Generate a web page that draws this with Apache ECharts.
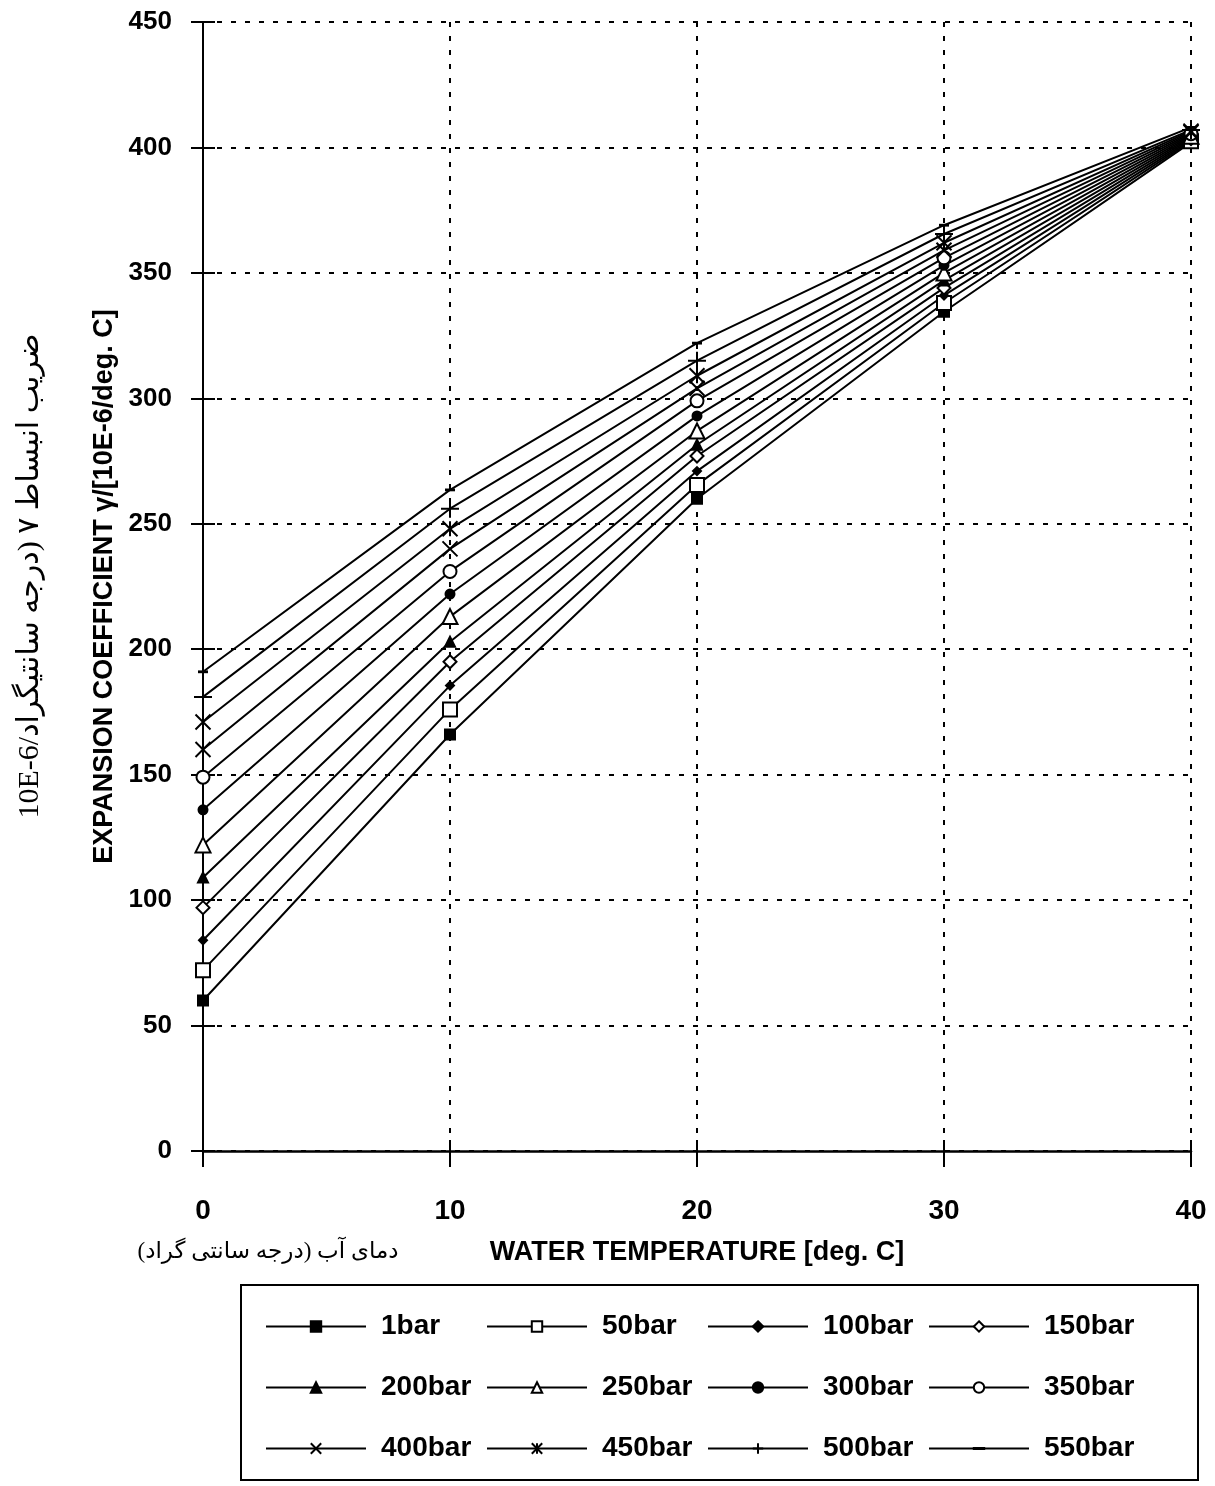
<!DOCTYPE html>
<html>
<head>
<meta charset="utf-8">
<title>Expansion coefficient</title>
<script src="https://cdn.jsdelivr.net/npm/echarts@6/dist/echarts.min.js"></script>
<style>
html, body { margin: 0; padding: 0; background: #fff; }
#main { width: 1215px; height: 1486px; }
</style>
</head>
<body>
<div id="main"></div>
<script>
// x: water temperature [deg. C]
var temps = [0, 10, 20, 30, 40];
// pressure names, in the order of the legend
var names = ['1bar', '50bar', '100bar', '150bar', '200bar', '250bar',
             '300bar', '350bar', '400bar', '450bar', '500bar', '550bar'];
// expansion coefficient [10E-6/deg. C]
var bar1   = [60, 166, 260, 334.5, 402];
var bar50  = [72, 176, 265.5, 338, 402.5];
var bar100 = [84, 185.5, 271, 341, 403];
var bar150 = [97, 195, 277, 344, 403.5];
var bar200 = [109, 203, 281.5, 347, 404];
var bar250 = [122, 213, 287, 350, 404.5];
var bar300 = [136, 222, 293, 353, 405];
var bar350 = [149, 231, 299, 356, 405.5];
var bar400 = [160, 240, 304, 359, 406];
var bar450 = [171, 248, 309, 362, 406.5];
var bar500 = [181, 256, 315, 365.5, 407];
var bar550 = [191, 263.5, 322, 369, 408];
var values = [bar1, bar50, bar100, bar150, bar200, bar250,
              bar300, bar350, bar400, bar450, bar500, bar550];
// axis ticks
var xTicks = [0, 10, 20, 30, 40];
var yTicks = [0, 50, 100, 150, 200, 250, 300, 350, 400, 450];

/*marker of each curve*/
var marks = [
    {symbol: 'rect', size: 10},
    {symbol: 'emptyRect', size: 14},
    {symbol: 'diamond', size: 8},
    {symbol: 'emptyDiamond', size: 13},
    {symbol: 'triangle', size: 10},
    {symbol: 'emptyTriangle', size: 15},
    {symbol: 'circle', size: 9},
    {symbol: 'emptyCircle', size: 13},
    {symbol: 'path://M0,0L10,10M10,0L0,10', size: 15},
    {symbol: 'path://M0,0L10,10M10,0L0,10M5,0L5,10', size: 15},
    {symbol: 'path://M5,0L5,10M0,5L10,5', size: 18},
    /*thin dash; the two empty points keep the box square*/
    {symbol: 'path://M0,0L0,0M10,10L10,10M0,4.5L10,4.5L10,5.5L0,5.5Z', size: 8}
];

var font = '"Liberation Sans", Arial, sans-serif';

var series = names.map(function(name, i){
    return {
        name: name,
        type: 'line',
        xAxisIndex: 0,
        yAxisIndex: 0,
        data: temps.map(function(t, j){ return [t, values[i][j]]; }),
        symbol: marks[i].symbol,
        symbolSize: marks[i].size,
        symbolKeepAspect: true,
        showAllSymbol: true,
        lineStyle: {color: '#000', width: 2},
        itemStyle: {color: '#000', borderColor: '#000', borderWidth: 2},
        emphasis: {disabled: true},
        animation: false,
        z: 3
    };
});

var axisText = {fontFamily: font, fontWeight: 'bold', color: '#000'};

var chart = echarts.init(document.getElementById('main'));
chart.setOption({
    backgroundColor: '#fff',
    animation: false,
    grid: {left: 203, right: 24, top: 22, bottom: 335, containLabel: false},
    /*legend: 4 columns of ~222px, rows 61px apart*/
    legend: {
        orient: 'horizontal',
        left: 265,
        top: 1296,
        width: 900,
        padding: 0,
        itemWidth: 100,
        itemHeight: 13,
        itemGap: 0,
        selectedMode: false,
        data: names,
        textStyle: {
            fontFamily: font,
            fontWeight: 'bold',
            fontSize: 28,
            lineHeight: 61,
            width: 105,
            color: '#000',
            padding: [0, 0, 0, 10]
        }
    },
    xAxis: [
        {
            type: 'value',
            min: xTicks[0],
            max: xTicks[xTicks.length - 1],
            interval: 10,
            position: 'bottom',
            name: 'WATER TEMPERATURE [deg. C]',
            nameLocation: 'middle',
            nameGap: 88,
            nameTextStyle: Object.assign({fontSize: 27}, axisText),
            axisLine: {lineStyle: {color: '#000', width: 2.5}},
            axisTick: {length: 16, lineStyle: {color: '#000', width: 2}},
            axisLabel: Object.assign({fontSize: 28, margin: 46}, axisText),
            splitLine: {show: true, lineStyle: {color: '#000', width: 2, type: [5, 9]}}
        },
        {   /*inner half of the crossing ticks*/
            type: 'value',
            min: xTicks[0],
            max: xTicks[xTicks.length - 1],
            interval: 10,
            position: 'bottom',
            axisLine: {show: false},
            axisTick: {inside: true, length: 11, lineStyle: {color: '#000', width: 2}},
            axisLabel: {show: false},
            splitLine: {show: false}
        }
    ],
    yAxis: [
        {
            type: 'value',
            min: yTicks[0],
            max: yTicks[yTicks.length - 1],
            interval: 50,
            position: 'left',
            name: 'EXPANSION COEFFICIENT \u03b3/[10E-6/deg. C]',
            nameLocation: 'middle',
            nameGap: 84,
            nameTextStyle: Object.assign({fontSize: 27}, axisText),
            axisLine: {show: true, lineStyle: {color: '#000', width: 2}},
            axisTick: {show: true, length: 12, lineStyle: {color: '#000', width: 2}},
            axisLabel: Object.assign({fontSize: 26, margin: 31}, axisText),
            splitLine: {show: true, lineStyle: {color: '#000', width: 2, type: [5, 9]}}
        },
        {
            type: 'value',
            min: yTicks[0],
            max: yTicks[yTicks.length - 1],
            interval: 50,
            position: 'left',
            axisLine: {show: false},
            axisTick: {show: true, inside: true, length: 12, lineStyle: {color: '#000', width: 2}},
            axisLabel: {show: false},
            splitLine: {show: false}
        }
    ],
    series: series,
    graphic: [
        {   /*legend frame*/
            type: 'rect',
            shape: {x: 241, y: 1285, width: 957, height: 195},
            style: {fill: 'none', stroke: '#000', lineWidth: 2},
            silent: true
        },
        {   /*persian caption of x*/
            type: 'text',
            x: 268,
            y: 1252,
            style: {
                text: 'دمای آب (درجه سانتی گراد)',
                font: '23px "Liberation Serif", "DejaVu Sans", serif',
                fill: '#000',
                textAlign: 'center',
                textVerticalAlign: 'middle'
            },
            silent: true
        },
        {   /*persian caption of y*/
            type: 'text',
            x: 30,
            y: 576,
            rotation: Math.PI / 2,
            style: {
                text: '10E-6/ضریب انبساط ۷ (درجه سانتیگراد',
                font: '30px "Liberation Serif", "DejaVu Sans", serif',
                fill: '#000',
                textAlign: 'center',
                textVerticalAlign: 'middle'
            },
            silent: true
        }
    ]
});
</script>
</body>
</html>
